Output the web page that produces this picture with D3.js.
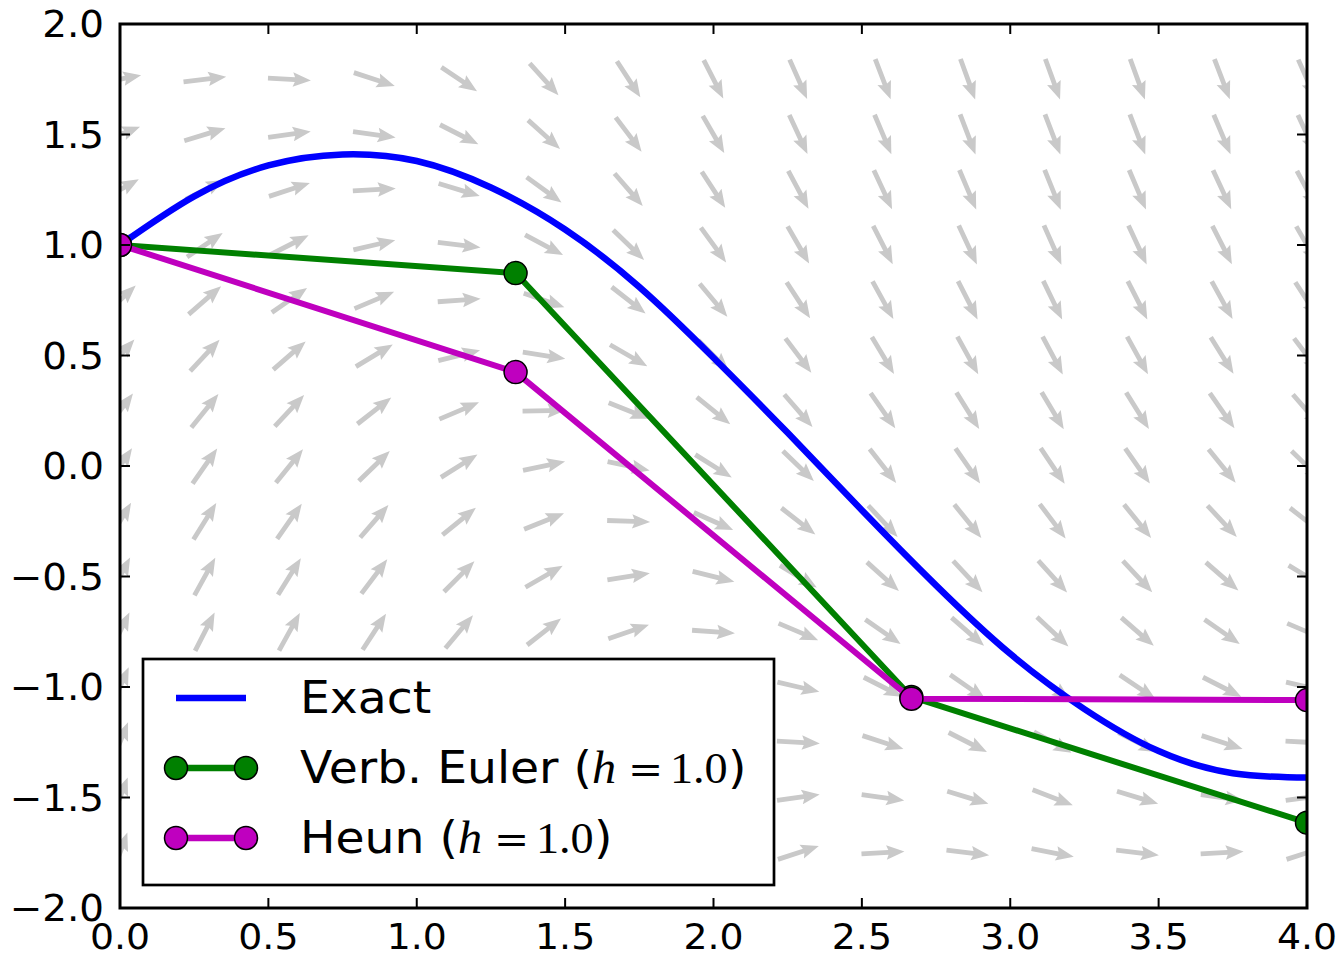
<!DOCTYPE html>
<html>
<head>
<meta charset="utf-8">
<script src="https://cdn.jsdelivr.net/npm/d3@7"></script>
<style>
  html, body { margin: 0; background: #fff; }
</style>
</head>
<body>
<svg id="chart" width="1342" height="958"></svg>
<script>
// exact solution
var exactX = [0, 0.25, 0.5, 0.75, 1.0, 1.25, 1.5, 1.75, 2.0, 2.25, 2.5, 2.75, 3.0, 3.25, 3.5, 3.75, 4.0];
var exactY = [1.00, 1.22, 1.36, 1.41, 1.38, 1.26, 1.07, 0.81, 0.49, 0.15, -0.20, -0.54, -0.85, -1.10, -1.29, -1.39, -1.41];

// explicit euler and heun steps
var stepX = [0, 1.333, 2.667, 4.0];
var eulerY = [1.0, 0.873, -1.045, -1.614];
var heunY = [1.0, 0.425, -1.053, -1.059];

// direction field grid (arrow angle in degrees, up = positive)
var fieldX = [0, 0.286, 0.571, 0.857, 1.143, 1.429, 1.714, 2.0, 2.286, 2.571, 2.857, 3.143, 3.429, 3.714, 4.0];
var fieldY = [1.75, 1.5, 1.25, 1.0, 0.75, 0.5, 0.25, 0, -0.25, -0.5, -0.75, -1.0, -1.25, -1.5, -1.75];
var fieldAngle = [
    [11, 7, -3, -18, -34, -48, -57, -63, -66, -69, -70, -70, -70, -69, -66],
    [21, 17, 8, -8, -27, -42, -53, -60, -65, -67, -69, -69, -69, -67, -65],
    [29, 27, 18, 3, -17, -36, -49, -57, -62, -65, -67, -68, -67, -65, -62],
    [37, 34, 27, 13, -7, -28, -44, -54, -60, -63, -65, -66, -65, -63, -60],
    [43, 41, 35, 23, 4, -19, -38, -50, -57, -61, -63, -64, -63, -61, -57],
    [48, 47, 41, 31, 14, -9, -30, -45, -53, -59, -61, -62, -61, -58, -53],
    [53, 51, 47, 38, 23, 1, -22, -39, -49, -55, -58, -59, -58, -55, -49],
    [56, 55, 51, 44, 32, 12, -12, -32, -44, -52, -55, -56, -55, -51, -44],
    [59, 58, 55, 49, 39, 22, -2, -24, -38, -47, -51, -53, -51, -47, -38],
    [62, 61, 58, 53, 45, 30, 9, -14, -31, -42, -47, -48, -47, -41, -31],
    [64, 63, 61, 57, 50, 38, 19, -4, -23, -35, -41, -43, -41, -35, -23],
    [66, 65, 63, 60, 54, 44, 28, 7, -13, -27, -35, -37, -34, -27, -13],
    [68, 67, 65, 62, 57, 49, 36, 17, -3, -18, -27, -29, -27, -18, -3],
    [69, 69, 67, 65, 60, 53, 42, 27, 8, -8, -17, -21, -17, -8, 8],
    [70, 70, 69, 66, 63, 57, 48, 34, 18, 3, -7, -11, -7, 3, 18]
];

var xTicks = [0, 0.5, 1.0, 1.5, 2.0, 2.5, 3.0, 3.5, 4.0];
var yTicks = [-2.0, -1.5, -1.0, -0.5, 0, 0.5, 1.0, 1.5, 2.0];

var legendLabels = ["Exact", "Verb. Euler (", "Heun ("];

var margin = { top: 24, left: 120 },
    width = 1187,
    height = 884;

var svg = d3.select("#chart");

var x = d3.scaleLinear().domain([0, 4]).range([margin.left, margin.left + width]);
var y = d3.scaleLinear().domain([-2, 2]).range([margin.top + height, margin.top]);

svg.append("defs").append("clipPath")
    .attr("id", "plotClip")
    .append("rect")
    .attr("x", margin.left)
    .attr("y", margin.top)
    .attr("width", width)
    .attr("height", height);

var plot = svg.append("g").attr("clip-path", "url(#plotClip)");

// 
// quiver arrows, pivot in the middle
// 
var L = 43, sw = 4.8, hw = 14.5, hl = 18, hal = 16;
var arrowPath = "M" + (-L / 2) + "," + (-sw / 2) +
    "L" + (L / 2 - hal) + "," + (-sw / 2) +
    "L" + (L / 2 - hl) + "," + (-hw / 2) +
    "L" + (L / 2) + ",0" +
    "L" + (L / 2 - hl) + "," + (hw / 2) +
    "L" + (L / 2 - hal) + "," + (sw / 2) +
    "L" + (-L / 2) + "," + (sw / 2) + "Z";

var arrows = [];
fieldY.forEach(function(fy, r) {
    fieldX.forEach(function(fx, c) {
        arrows.push({ x: fx, y: fy, a: fieldAngle[r][c] });
    });
});

plot.append("g").selectAll("path")
    .data(arrows)
    .enter().append("path")
    .attr("d", arrowPath)
    .attr("fill", "#c9c9c9")
    .attr("transform", function(d) {
        return "translate(" + x(d.x) + "," + y(d.y) + ") rotate(" + (-d.a) + ")";
    });

// 
// curves
// 
var exactLine = d3.line()
    .x(function(d, i) { return x(exactX[i]); })
    .y(function(d) { return y(d); })
    .curve(d3.curveNatural);

plot.append("path")
    .attr("d", exactLine(exactY))
    .attr("fill", "none")
    .attr("stroke", "#0000ff")
    .attr("stroke-width", 6.5);

var stepLine = d3.line()
    .x(function(d, i) { return x(stepX[i]); })
    .y(function(d) { return y(d); });

function drawSteps(vals, color) {
    plot.append("path")
        .attr("d", stepLine(vals))
        .attr("fill", "none")
        .attr("stroke", color)
        .attr("stroke-width", 6)
        .attr("stroke-linejoin", "round");
    plot.append("g").selectAll("circle")
        .data(vals)
        .enter().append("circle")
        .attr("cx", function(d, i) { return x(stepX[i]); })
        .attr("cy", function(d) { return y(d); })
        .attr("r", 11.5)
        .attr("fill", color)
        .attr("stroke", "#000")
        .attr("stroke-width", 1.5);
}
drawSteps(eulerY, "#008000");
drawSteps(heunY, "#bf00bf");

// 
// frame and ticks (inside, all four sides)
// 
var axes = svg.append("g").attr("stroke", "#000").attr("stroke-width", 2);
xTicks.forEach(function(t) {
    axes.append("line").attr("x1", x(t)).attr("x2", x(t)).attr("y1", y(-2)).attr("y2", y(-2) - 10);
    axes.append("line").attr("x1", x(t)).attr("x2", x(t)).attr("y1", y(2)).attr("y2", y(2) + 10);
});
yTicks.forEach(function(t) {
    axes.append("line").attr("x1", x(0)).attr("x2", x(0) + 10).attr("y1", y(t)).attr("y2", y(t));
    axes.append("line").attr("x1", x(4)).attr("x2", x(4) - 10).attr("y1", y(t)).attr("y2", y(t));
});

svg.append("rect")
    .attr("x", margin.left)
    .attr("y", margin.top)
    .attr("width", width)
    .attr("height", height)
    .attr("fill", "none")
    .attr("stroke", "#000")
    .attr("stroke-width", 3);

var fmt = function(v) { return d3.format(".1f")(v).replace("-", "\u2212"); };

svg.append("g").selectAll("text")
    .data(xTicks)
    .enter().append("text")
    .attr("transform", function(d) { return "translate(" + x(d) + "," + (y(-2) + 41) + ") scale(1.05,1)"; })
    .attr("text-anchor", "middle")
    .attr("font-family", "DejaVu Sans")
    .attr("font-size", 36)
    .text(fmt);

svg.append("g").selectAll("text")
    .data(yTicks)
    .enter().append("text")
    .attr("transform", function(d) { return "translate(" + (x(0) - 16) + "," + (y(d) + 13) + ") scale(1.05,1)"; })
    .attr("text-anchor", "end")
    .attr("font-family", "DejaVu Sans")
    .attr("font-size", 37)
    .text(fmt);

// 
// legend
// 
var legend = svg.append("g");
legend.append("rect")
    .attr("x", 143).attr("y", 659)
    .attr("width", 631).attr("height", 226)
    .attr("fill", "#fff")
    .attr("stroke", "#000")
    .attr("stroke-width", 2.7);

var rowY = [698, 768, 838];
var rowColor = ["#0000ff", "#008000", "#bf00bf"];

function addText(px, py, str, family, size, italic) {
    var t = legend.append("text")
        .attr("transform", "translate(" + px + "," + py + ") scale(1.05,1)")
        .attr("font-family", family)
        .attr("font-size", size)
        .text(str);
    if (italic) t.attr("font-style", "italic");
    return t;
}

rowY.forEach(function(ry, i) {
    legend.append("line")
        .attr("x1", 176).attr("x2", 246)
        .attr("y1", ry).attr("y2", ry)
        .attr("stroke", rowColor[i])
        .attr("stroke-width", 6.5);
    if (i > 0) {
        [176, 246].forEach(function(mx) {
            legend.append("circle")
                .attr("cx", mx).attr("cy", ry).attr("r", 11.5)
                .attr("fill", rowColor[i])
                .attr("stroke", "#000")
                .attr("stroke-width", 1.5);
        });
    }
    var base = ry + 15;
    var t = addText(300, base, legendLabels[i], "DejaVu Sans", 45, false);
    if (i > 0) {
        var end = 300 + t.node().getComputedTextLength() * 1.05;
        addText(end, base, "h", "Liberation Serif", 46, true);
        addText(end + 36, base, "=", "DejaVu Serif", 40, false);
        addText(end + 78, base, "1.0", "Liberation Serif", 44, false);
        addText(end + 136, base, ")", "DejaVu Sans", 45, false);
    }
});
</script>
</body>
</html>
